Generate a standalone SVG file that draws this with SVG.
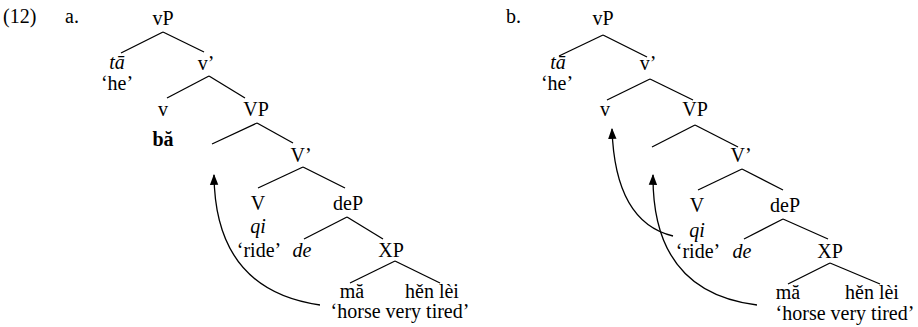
<svg xmlns="http://www.w3.org/2000/svg" width="918" height="327" viewBox="0 0 918 327">
<defs>
<style>
text{font-family:"Liberation Serif","Times New Roman",serif;font-size:20px;fill:#000;text-anchor:middle}
.it{font-style:italic}
.b{font-weight:bold}
.l{text-anchor:start}
line{stroke:#000;stroke-width:1.3}
path.arr{fill:none;stroke:#000;stroke-width:1.3;marker-end:url(#ah)}
</style>
<marker id="ah" viewBox="0 0 10 10" refX="9" refY="5" markerWidth="11" markerHeight="11" markerUnits="userSpaceOnUse" orient="auto">
<path d="M0,1.2 L10,5 L0,8.8 Z" fill="#000"/>
</marker>
</defs>
<rect width="918" height="327" fill="#fff"/>
<g id="labels">
<text class="l" x="3" y="23">(12)</text>
<text class="l" x="65" y="23">a.</text>
<text class="l" x="506" y="23">b.</text>
</g>
<g id="treeA">
<g id="a-vP"><text x="163" y="25">vP</text></g>
<g id="a-ta"><text class="it" x="117" y="69">tā</text><text x="117" y="90">‘he’</text></g>
<g id="a-vbar"><text x="206" y="70">v’</text></g>
<g id="a-v"><text x="163" y="116">v</text><text class="b" x="163" y="146">bă</text></g>
<g id="a-VP"><text x="256" y="116">VP</text></g>
<g id="a-Vbar"><text x="301" y="162">V’</text></g>
<g id="a-V"><text x="258" y="210">V</text><text class="it" x="258" y="233">qi</text><text x="259" y="257">‘ride’</text></g>
<g id="a-deP"><text x="348" y="210">deP</text></g>
<g id="a-de"><text class="it" x="302" y="257">de</text></g>
<g id="a-XP"><text x="391" y="257">XP</text></g>
<g id="a-leaves"><text x="352" y="298">mă</text><text x="432" y="298">hěn lèi</text><text x="400" y="318">‘horse very tired’</text></g>
</g>
<g id="treeB">
<g id="b-vP"><text x="603" y="25">vP</text></g>
<g id="b-ta"><text class="it" x="558" y="69">tā</text><text x="557" y="90">‘he’</text></g>
<g id="b-vbar"><text x="648" y="70">v’</text></g>
<g id="b-v"><text x="605" y="116">v</text></g>
<g id="b-VP"><text x="695" y="116">VP</text></g>
<g id="b-Vbar"><text x="741" y="162">V’</text></g>
<g id="b-V"><text x="697" y="212">V</text><text class="it" x="697" y="237">qi</text><text x="698" y="258">‘ride’</text></g>
<g id="b-deP"><text x="785" y="212">deP</text></g>
<g id="b-de"><text class="it" x="742" y="258">de</text></g>
<g id="b-XP"><text x="830" y="258">XP</text></g>
<g id="b-leaves"><text x="788" y="299">mă</text><text x="872" y="299">hěn lèi</text><text x="845" y="320">‘horse very tired’</text></g>
</g>
<g id="connectors">
<line x1="163" y1="32" x2="121" y2="53"/><line x1="163" y1="32" x2="204" y2="52"/>
<line x1="209" y1="76" x2="167" y2="98"/><line x1="209" y1="76" x2="245" y2="98"/>
<line x1="257" y1="123" x2="212" y2="144"/><line x1="257" y1="123" x2="293" y2="143"/>
<line x1="303" y1="167" x2="258" y2="188"/><line x1="303" y1="167" x2="345" y2="188"/>
<line x1="347" y1="217" x2="304" y2="239"/><line x1="347" y1="217" x2="383" y2="239"/>
<line x1="395" y1="261" x2="350" y2="283"/><line x1="395" y1="261" x2="440" y2="283"/>
<path class="arr" d="M320,305 Q215,290 214,175"/>
<line x1="603" y1="35" x2="559" y2="56"/><line x1="603" y1="35" x2="647" y2="57"/>
<line x1="650" y1="79" x2="607" y2="100"/><line x1="650" y1="79" x2="693" y2="100"/>
<line x1="695" y1="125" x2="652" y2="147"/><line x1="695" y1="125" x2="738" y2="147"/>
<line x1="742" y1="169" x2="698" y2="190"/><line x1="742" y1="169" x2="783" y2="190"/>
<line x1="783" y1="219" x2="744" y2="239"/><line x1="783" y1="219" x2="828" y2="239"/>
<line x1="830" y1="263" x2="788" y2="284"/><line x1="830" y1="263" x2="880" y2="284"/>
<path class="arr" d="M673,236 Q615,222 612,129"/>
<path class="arr" d="M757,305 Q652,292 653,175"/>
</g>
</svg>
